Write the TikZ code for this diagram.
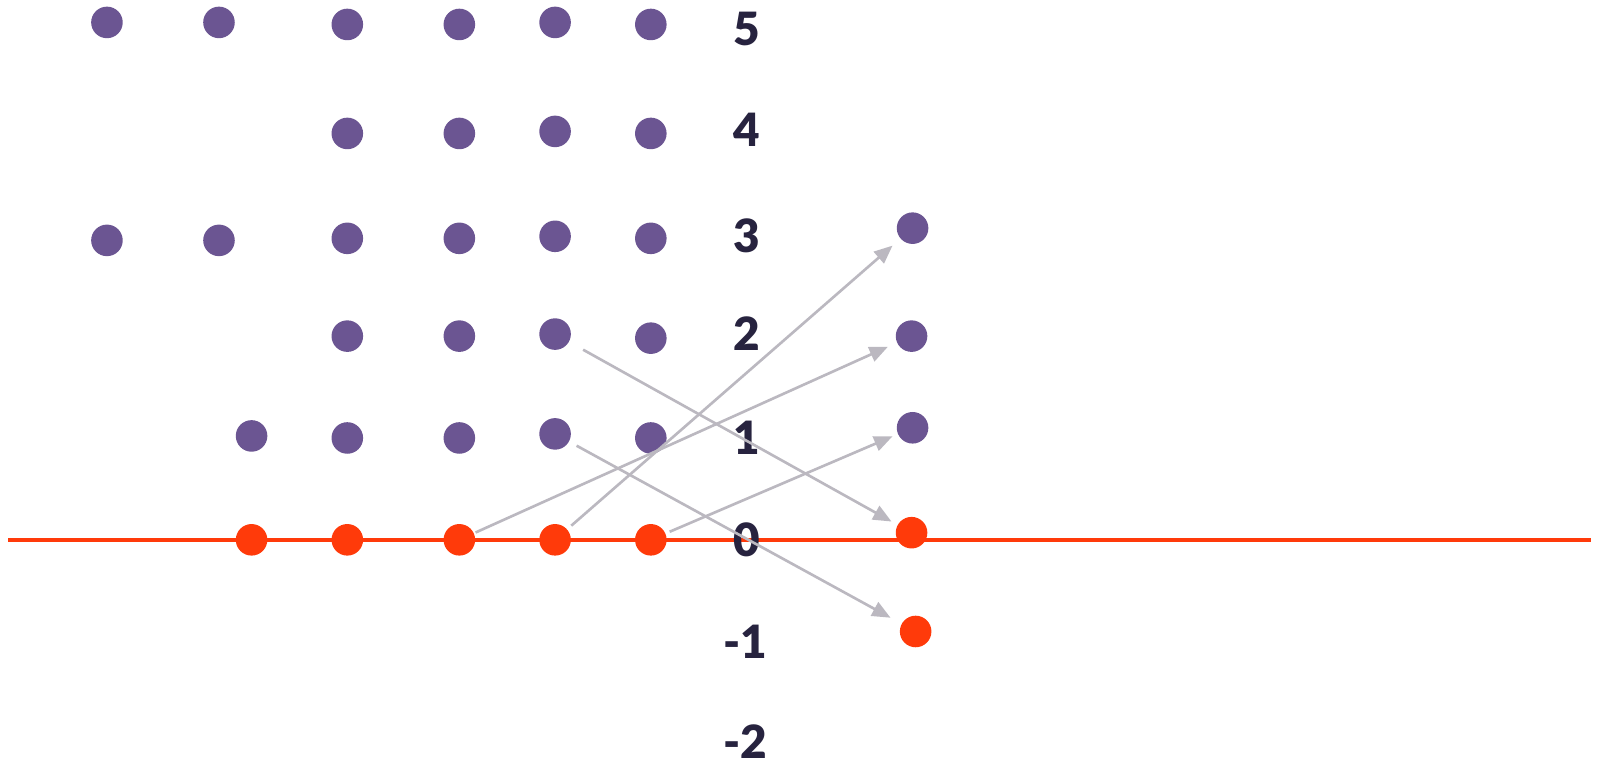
\documentclass[tikz,border=0pt]{standalone}
\usepackage{fontspec}
\setmainfont{Lato}[BoldFont={Lato Black}]
\usetikzlibrary{arrows.meta}
\definecolor{dotpurple}{HTML}{6B5592}
\definecolor{dotred}{HTML}{FF3A0A}
\definecolor{labelc}{HTML}{27233F}
\definecolor{arrowc}{HTML}{BBB8C0}
\tikzset{
  pdot/.style={circle, fill=dotpurple, minimum size=15.5pt, inner sep=0pt, outer sep=0pt},
  rdot/.style={circle, fill=dotred, minimum size=15.5pt, inner sep=0pt, outer sep=0pt},
  lab/.style={text=labelc, inner sep=0pt, font=\fontsize{22.5}{22.5}\selectfont\bfseries},
  conn/.style={draw=arrowc, line width=1.3pt, -{Triangle[length=9pt,width=7.5pt]}},
  axis/.style={draw=dotred, line width=2.1pt}
}
\begin{document}
\begin{tikzpicture}[x=0.5pt,y=-0.5pt]
\useasboundingbox (0,0) rectangle (1568,752);
% axis line
\coordinate (axL) at (8,530);
\coordinate (axR) at (1562,530);
\draw[axis] (axL) -- (axR);
% labels
\node[lab] (l5) at (733,28) {5};
\node[lab] (l4) at (733,127) {4};
\node[lab] (l3) at (733,232) {3};
\node[lab] (l2) at (733,328) {2};
\node[lab] (l1) at (733,430) {1};
\node[lab] (l0) at (733,530) {0};
\node[lab] (lm1) at (732,630) {-1};
\node[lab] (lm2) at (732,728) {-2};
% row 5
\node[pdot] (p5a) at (105,22) {};
\node[pdot] (p5b) at (215,22) {};
\node[pdot] (p5c) at (341,24) {};
\node[pdot] (p5d) at (451,24) {};
\node[pdot] (p5e) at (545,22) {};
\node[pdot] (p5f) at (639,24) {};
% row 4
\node[pdot] (p4c) at (341,131) {};
\node[pdot] (p4d) at (451,131) {};
\node[pdot] (p4e) at (545,129) {};
\node[pdot] (p4f) at (639,131) {};
% row 3
\node[pdot] (p3a) at (105,236) {};
\node[pdot] (p3b) at (215,236) {};
\node[pdot] (p3c) at (341,234) {};
\node[pdot] (p3d) at (451,234) {};
\node[pdot] (p3e) at (545,232) {};
\node[pdot] (p3f) at (639,234) {};
% row 2
\node[pdot] (p2c) at (341,330) {};
\node[pdot] (p2d) at (451,330) {};
\node[pdot] (p2e) at (545,328) {};
\node[pdot] (p2f) at (639,332) {};
% row 1
\node[pdot] (p1b) at (247,428) {};
\node[pdot] (p1c) at (341,430) {};
\node[pdot] (p1d) at (451,430) {};
\node[pdot] (p1e) at (545,426) {};
\node[pdot] (p1f) at (639,430) {};
% row 0
\node[rdot] (r0b) at (247,530) {};
\node[rdot] (r0c) at (341,530) {};
\node[rdot] (r0d) at (451,530) {};
\node[rdot] (r0e) at (545,530) {};
\node[rdot] (r0f) at (639,530) {};
% right column
\node[pdot] (q3) at (896,224) {};
\node[pdot] (q2) at (895,330) {};
\node[pdot] (q1) at (896,420) {};
\node[rdot] (q0) at (895,523) {};
\node[rdot] (qm1) at (899,620) {};
% arrows
\draw[conn, shorten <=8pt, shorten >=3.5pt] (p2e) -- (q0);
\draw[conn, shorten <=4.3pt, shorten >=6.3pt] (p1e) -- (qm1);
\draw[conn, shorten <=1pt, shorten >=5pt] (r0d) -- (q2);
\draw[conn, shorten <=2.8pt, shorten >=5.3pt] (r0e) -- (q3);
\draw[conn, shorten <=2.3pt, shorten >=3pt] (r0f) -- (q1);
\end{tikzpicture}
\end{document}
